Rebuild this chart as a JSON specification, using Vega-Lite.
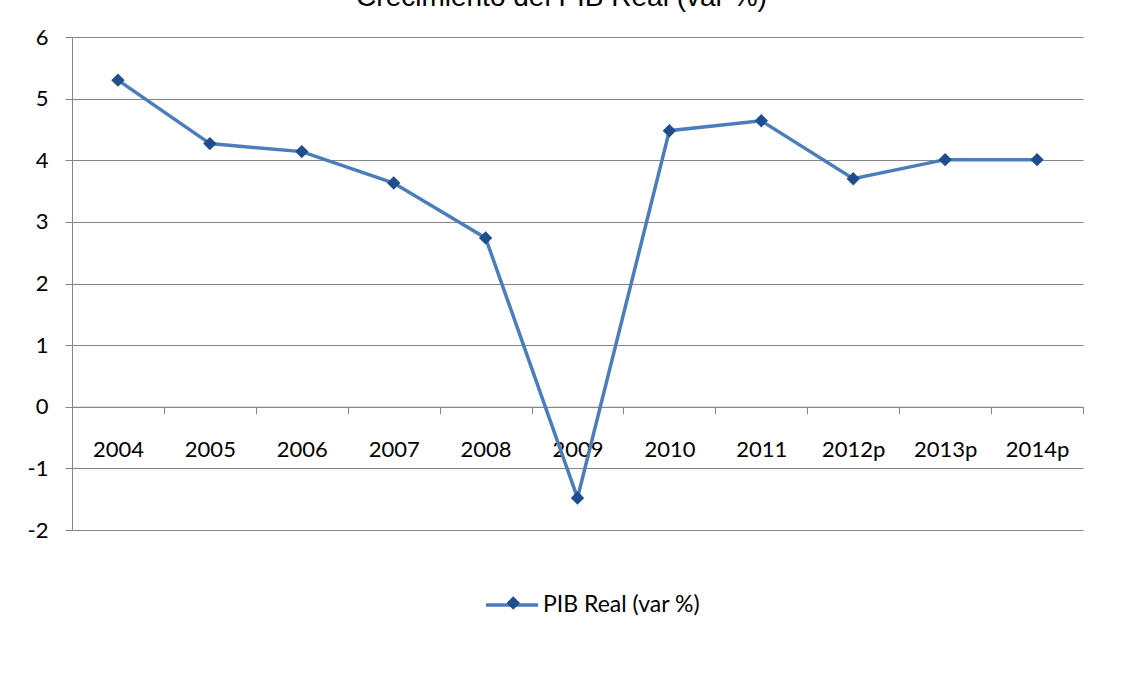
{
  "$schema": "https://vega.github.io/schema/vega-lite/v6.json",
  "autosize": "none",
  "width": 1011,
  "height": 493,
  "padding": {"left": 72, "top": 37, "right": 53, "bottom": 144},
  "background": "white",
  "title": {
    "text": "Crecimiento del PIB Real (var %)",
    "font": "Liberation Sans",
    "fontSize": 28,
    "fontWeight": "normal",
    "color": "#000000",
    "anchor": "middle",
    "frame": "group",
    "dx": -16,
    "offset": -8,
    "baseline": "alphabetic"
  },
  "config": {"view": {"stroke": null}, "font": "Lato"},
  "data": {
    "values": [
      {"year": "2004", "value": 5.30, "serie": "PIB Real (var %)"},
      {"year": "2005", "value": 4.27, "serie": "PIB Real (var %)"},
      {"year": "2006", "value": 4.14, "serie": "PIB Real (var %)"},
      {"year": "2007", "value": 3.63, "serie": "PIB Real (var %)"},
      {"year": "2008", "value": 2.74, "serie": "PIB Real (var %)"},
      {"year": "2009", "value": -1.48, "serie": "PIB Real (var %)"},
      {"year": "2010", "value": 4.48, "serie": "PIB Real (var %)"},
      {"year": "2011", "value": 4.64, "serie": "PIB Real (var %)"},
      {"year": "2012p", "value": 3.70, "serie": "PIB Real (var %)"},
      {"year": "2013p", "value": 4.01, "serie": "PIB Real (var %)"},
      {"year": "2014p", "value": 4.01, "serie": "PIB Real (var %)"}
    ]
  },
  "encoding": {
    "x": {
      "field": "year",
      "type": "ordinal",
      "sort": null,
      "scale": {"type": "band", "paddingInner": 0, "paddingOuter": 0},
      "axis": {
        "title": null,
        "orient": "bottom",
        "offset": -123.25,
        "tickBand": "extent",
        "tickSize": 7,
        "tickColor": "#868686",
        "domainColor": "#868686",
        "labelPadding": 26,
        "labelAngle": 0,
        "labelFont": "Lato",
        "labelFontSize": 22,
        "labelColor": "#000000",
        "grid": false
      }
    },
    "y": {
      "field": "value",
      "type": "quantitative",
      "scale": {"domain": [-2, 6], "nice": false, "zero": false},
      "axis": {
        "title": null,
        "values": [-2, -1, 0, 1, 2, 3, 4, 5, 6],
        "labelExpr": "datum.value < 0 ? '-' + abs(datum.value) : '' + datum.value",
        "grid": true,
        "gridColor": "#868686",
        "tickColor": "#868686",
        "domainColor": "#868686",
        "tickSize": 7,
        "labelPadding": 17,
        "labelFont": "Lato",
        "labelFontSize": 22,
        "labelColor": "#000000"
      }
    }
  },
  "layer": [
    {
      "mark": {"type": "line", "strokeWidth": 3.5},
      "encoding": {
        "color": {
          "field": "serie",
          "type": "nominal",
          "scale": {"range": ["#4A7EBB"]},
          "legend": {
            "orient": "none",
            "legendX": 412,
            "legendY": 540,
            "title": null,
            "padding": 0,
            "symbolType": "stroke",
            "symbolSize": 2704,
            "symbolStrokeWidth": 3.5,
            "symbolStrokeColor": "#4A7EBB",
            "labelFont": "Lato",
            "labelFontSize": 23,
            "labelColor": "#000000",
            "labelOffset": 3
          }
        }
      }
    },
    {
      "mark": {"type": "point", "filled": true, "size": 180, "color": "#1F4E8C", "opacity": 1},
      "encoding": {
        "shape": {
          "datum": "m",
          "scale": {"range": ["diamond"]},
          "legend": {
            "orient": "none",
            "legendX": 430.3,
            "legendY": 555,
            "title": null,
            "padding": 0,
            "symbolSize": 180,
            "symbolFillColor": "#1F4E8C",
            "symbolStrokeWidth": 0,
            "symbolOpacity": 1,
            "labelExpr": "''",
            "labelFontSize": 22
          }
        }
      }
    }
  ]
}
